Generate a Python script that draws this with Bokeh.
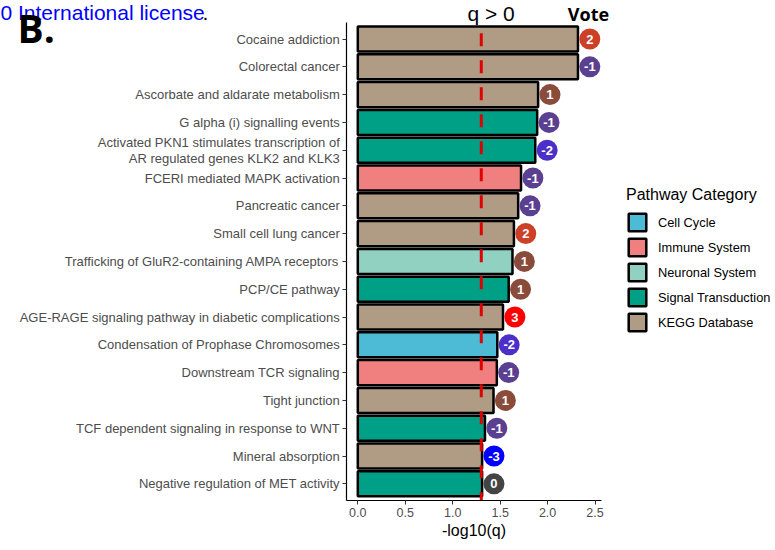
import math
from bokeh.plotting import figure
from bokeh.models import (Range1d, FixedTicker, Label, Legend, LegendItem,
                          ColumnDataSource)
from bokeh.core.properties import value
from bokeh.embed import file_html
from bokeh.resources import INLINE

# ---- data (top to bottom) ----
pathways = [
    "Cocaine addiction",
    "Colorectal cancer",
    "Ascorbate and aldarate metabolism",
    "G alpha (i) signalling events",
    "Activated PKN1 stimulates transcription of\nAR regulated genes KLK2 and KLK3",
    "FCERI mediated MAPK activation",
    "Pancreatic cancer",
    "Small cell lung cancer",
    "Trafficking of GluR2-containing AMPA receptors",
    "PCP/CE pathway",
    "AGE-RAGE signaling pathway in diabetic complications",
    "Condensation of Prophase Chromosomes",
    "Downstream TCR signaling",
    "Tight junction",
    "TCF dependent signaling in response to WNT",
    "Mineral absorption",
    "Negative regulation of MET activity",
]
category = [
    "KEGG Database", "KEGG Database", "KEGG Database", "Signal Transduction",
    "Signal Transduction", "Immune System", "KEGG Database", "KEGG Database",
    "Neuronal System", "Signal Transduction", "KEGG Database", "Cell Cycle",
    "Immune System", "KEGG Database", "Signal Transduction", "KEGG Database",
    "Signal Transduction",
]
neg_log10_q = [2.32, 2.32, 1.90, 1.89, 1.87, 1.72, 1.69, 1.645, 1.63, 1.59,
               1.53, 1.47, 1.465, 1.43, 1.34, 1.31, 1.31]
votes = [2, -1, 1, -1, -2, -1, -1, 2, 1, 1, 3, -2, -1, 1, -1, -3, 0]

legend_order = ["Cell Cycle", "Immune System", "Neuronal System",
                "Signal Transduction", "KEGG Database"]
cat_colors = {
    "Cell Cycle": "#4DBBD5",
    "Immune System": "#F08080",
    "Neuronal System": "#91D1C2",
    "Signal Transduction": "#00A087",
    "KEGG Database": "#B09C85",
}
vote_colors = {-3: "#0000FF", -2: "#4B2FC6", -1: "#5B3F91", 0: "#444444",
               1: "#8A4B3B", 2: "#CC4028", 3: "#FF0000"}
q_threshold = 0.05
x_ticks = [0.0, 0.5, 1.0, 1.5, 2.0, 2.5]

n = len(pathways)
ypos = [n - i for i in range(n)]

FONT = "Liberation Sans"
W, H = 775, 550

# panel geometry (pixels) -> data ranges; the frame covers the whole canvas
PX_X = 94.9            # pixels per x unit
X0_PX = 357.3          # pixel of x = 0
PX_Y = 27.8            # pixels per row
AX_BOTTOM_PX = 500     # pixel (from top) of the x axis
x_lo, x_hi = -0.116, 2.565
y_lo, y_hi = 0.4, n + 0.6

p = figure(width=W, height=H, output_backend="svg", toolbar_location=None,
           x_range=Range1d(-X0_PX / PX_X, (W - X0_PX) / PX_X),
           y_range=Range1d(y_lo - (H - AX_BOTTOM_PX) / PX_Y,
                           y_lo + AX_BOTTOM_PX / PX_Y),
           title=None, min_border=0)
p.outline_line_color = None
p.xgrid.visible = False
p.ygrid.visible = False
p.background_fill_color = "white"
p.border_fill_color = "white"

# bars by category
items = []
for cat in legend_order:
    idx = [i for i, c in enumerate(category) if c == cat]
    src = ColumnDataSource(dict(y=[ypos[i] for i in idx],
                                v=[neg_log10_q[i] for i in idx]))
    r = p.hbar(y="y", right="v", left=0, height=0.9, source=src,
               fill_color=cat_colors[cat], line_color="black", line_width=2.5)
    items.append(LegendItem(label=cat, renderers=[r]))

# threshold line (q = 0.05), spanning the panel
thr = -math.log10(q_threshold)
p.segment(x0=[thr], y0=[y_hi], x1=[thr], y1=[y_lo], line_color="#E00000",
          line_width=3, line_dash="13 14", line_dash_offset=16)

# vote circles
vsrc = ColumnDataSource(dict(
    x=[v + 0.125 for v in neg_log10_q], y=ypos,
    c=[vote_colors[v] for v in votes], t=[str(v) for v in votes]))
p.scatter(x="x", y="y", size=21, marker="circle", fill_color="c",
          line_color=None, source=vsrc)
p.text(x="x", y="y", text="t", source=vsrc, text_color="white",
       text_font=value(FONT), text_font_size="13px", text_font_style="bold",
       text_align="center", text_baseline="middle")

# axes drawn at fixed locations inside the full-canvas frame
xa = p.xaxis[0]
ya = p.yaxis[0]
xa.fixed_location = y_lo
ya.fixed_location = x_lo
xa.bounds = (x_lo, x_hi)
ya.bounds = (y_lo, y_hi)
xa.ticker = FixedTicker(ticks=x_ticks)
xa.major_label_overrides = {t: f"{t:.1f}" for t in x_ticks}
xa.axis_label = "-log10(q)"
xa.axis_label_text_font = FONT
xa.axis_label_text_font_size = "16px"
xa.axis_label_text_font_style = "normal"
xa.axis_label_text_color = "black"
xa.axis_label_standoff = 2
ya.ticker = FixedTicker(ticks=ypos)
ya.major_label_overrides = {ypos[i]: pathways[i] for i in range(n)}
for ax in (xa, ya):
    ax.axis_line_color = "black"
    ax.axis_line_width = 1.2
    ax.major_tick_line_color = "#333333"
    ax.major_tick_out = 4
    ax.major_tick_in = 0
    ax.minor_tick_line_color = None
    ax.major_label_text_font = FONT
    ax.major_label_text_color = "#4D4D4D"
    ax.major_label_standoff = 3
xa.major_label_text_font_size = "12.5px"
ya.major_label_text_font_size = "13px"
ya.major_label_text_line_height = 1.05

# legend: location is its bottom-left corner, from the canvas bottom-left
leg = Legend(items=items, title="Pathway Category", location=(626, H - 333),
             glyph_width=22, glyph_height=22, spacing=3, padding=0, margin=0,
             label_standoff=10, border_line_alpha=0, background_fill_alpha=0,
             title_text_font=FONT, title_text_font_size="16px",
             title_text_font_style="normal", title_text_color="black",
             title_standoff=7, label_text_font=FONT,
             label_text_font_size="12.8px", label_text_color="black")
p.add_layout(leg)


def lab(text, cx, cy, **kw):
    p.add_layout(Label(x=cx, y=H - cy, x_units="screen", y_units="screen",
                       text=text, **kw))


lab("0 International license", 0, 12, text_font=FONT, text_font_size="21px",
    text_color="#0000FF", text_baseline="alphabetic")
lab(".", 202, 12, text_font=FONT, text_font_size="21px", text_color="black",
    text_baseline="alphabetic")
lab("B.", 17, 27, text_font="Open Sans", text_font_size="39px",
    text_font_style="bold", text_color="black", text_baseline="alphabetic")
lab("Vote", 588, 13, text_font="Open Sans", text_font_size="18px",
    text_font_style="bold", text_color="black", text_baseline="alphabetic",
    text_align="center")
lab("q > 0", 467, 12.5, text_font=FONT, text_font_size="21px",
    text_color="black", text_baseline="alphabetic")

open("out.html", "w").write(file_html(p, INLINE))
